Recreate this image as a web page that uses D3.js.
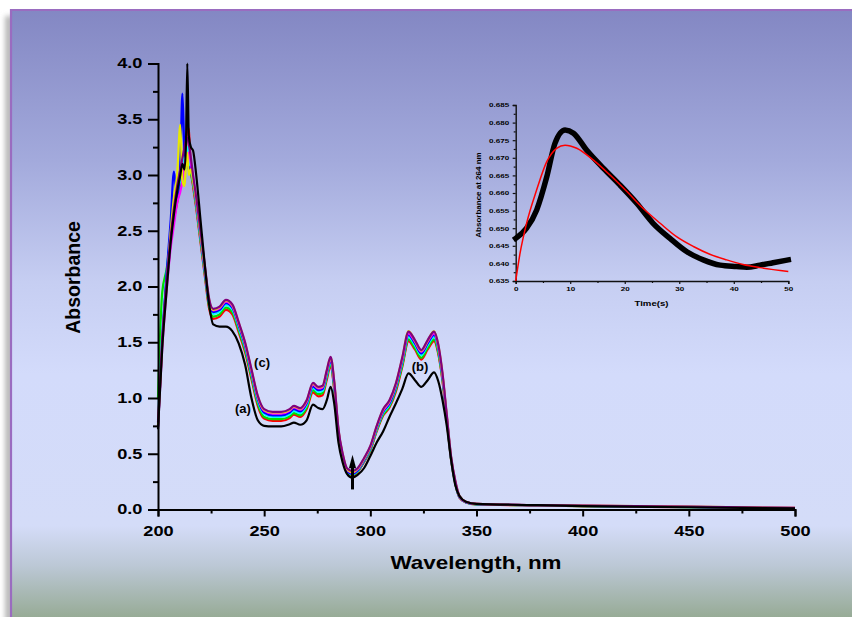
<!DOCTYPE html>
<html><head><meta charset="utf-8">
<script src="https://cdn.jsdelivr.net/npm/d3@7"></script>
<style>
body{margin:0;background:#fff}
svg{display:block}
text{font-family:"Liberation Sans",Arial,sans-serif;font-weight:bold;fill:#000}
</style>
</head><body>
<svg id="c" width="852" height="617"></svg>
<script>
// ---------- DATA ----------
const wavelengths = [200,202,204,206,207.5,209,210.5,211.5,212.5,213.2,
  213.8,214.5,215.5,216.5,218,220,222,224,226,229,
  232,235,238,241,244,247,250,254,258,262,
  264,267,270,273,275.5,277.5,279.5,281.3,283,285,
  287,289,291.5,294,297,300,303,306,309,312,
  315,318,321,324,327,330,332,334,336,338,
  340,342,345,350,375,400,450,500];

const absBlack = [0.72,1.45,1.95,2.4,2.65,2.85,3.0,3.1,3.05,3.3,
  4.0,3.35,3.25,3.22,3.0,2.6,2.2,1.85,1.66,1.64,
  1.64,1.6,1.49,1.3,1.0,0.8,0.75,0.745,0.745,0.765,
  0.78,0.76,0.8,0.94,0.91,0.9,0.98,1.10,0.95,0.6,
  0.42,0.32,0.285,0.31,0.37,0.48,0.6,0.7,0.83,0.95,
  1.08,1.22,1.16,1.10,1.16,1.23,1.15,0.98,0.75,0.45,
  0.22,0.12,0.07,0.05,0.04,0.03,0.02,0.01];

const absRed = [0.75,1.5,2.0,2.4,2.6,2.75,2.9,3.0,3.1,3.25,
  3.43,3.4,3.05,2.9,2.7,2.4,2.1,1.81,1.71,1.73,
  1.79,1.75,1.59,1.41,1.17,0.93,0.815,0.795,0.795,0.82,
  0.85,0.83,0.9,1.05,1.015,1.025,1.165,1.29,1.07,0.67,
  0.45,0.335,0.305,0.335,0.425,0.53,0.7,0.84,0.915,1.055,
  1.275,1.51,1.435,1.345,1.435,1.51,1.395,1.15,0.8,0.45,
  0.23,0.105,0.063,0.045,0.037,0.03,0.02,0.01];

const absGreen = [1.0,1.95,2.15,2.45,2.65,2.8,2.9,3.0,3.1,3.15,
  3.2,3.1,3.02,2.92,2.72,2.42,2.12,1.83,1.73,1.75,
  1.81,1.77,1.61,1.43,1.19,0.95,0.83,0.81,0.81,0.835,
  0.865,0.845,0.915,1.07,1.035,1.045,1.185,1.305,1.085,0.68,
  0.46,0.34,0.31,0.34,0.43,0.535,0.71,0.85,0.925,1.07,
  1.29,1.525,1.45,1.36,1.45,1.525,1.41,1.16,0.81,0.455,
  0.235,0.108,0.064,0.046,0.038,0.031,0.021,0.011];

const absCyan = [0.8,1.6,2.1,2.5,2.7,2.85,2.95,3.05,3.2,3.05,
  3.25,3.15,3.05,2.94,2.74,2.44,2.14,1.85,1.755,1.775,
  1.835,1.795,1.635,1.455,1.215,0.975,0.855,0.83,0.83,0.855,
  0.885,0.865,0.935,1.09,1.055,1.065,1.205,1.325,1.105,0.69,
  0.47,0.345,0.315,0.345,0.435,0.545,0.72,0.865,0.94,1.09,
  1.315,1.55,1.475,1.385,1.475,1.55,1.435,1.18,0.82,0.46,
  0.24,0.11,0.065,0.047,0.039,0.032,0.022,0.012];

const absBlue = [0.74,1.5,2.1,2.6,3.03,2.8,3.1,3.73,3.2,3.15,
  3.1,3.05,3.08,2.96,2.76,2.46,2.15,1.86,1.77,1.79,
  1.85,1.81,1.65,1.47,1.23,0.99,0.87,0.845,0.845,0.87,
  0.9,0.88,0.95,1.105,1.07,1.08,1.22,1.34,1.12,0.7,
  0.48,0.35,0.32,0.35,0.44,0.55,0.73,0.875,0.95,1.1,
  1.33,1.565,1.49,1.40,1.49,1.565,1.45,1.19,0.83,0.465,
  0.245,0.112,0.066,0.048,0.04,0.033,0.023,0.013];

const absMagenta = [0.74,1.45,1.95,2.35,2.55,2.75,2.85,2.95,3.1,3.15,
  3.12,3.2,3.1,2.98,2.78,2.48,2.17,1.88,1.785,1.805,
  1.865,1.825,1.665,1.485,1.245,1.005,0.885,0.86,0.86,0.885,
  0.915,0.895,0.965,1.12,1.085,1.095,1.235,1.355,1.135,0.71,
  0.49,0.36,0.33,0.36,0.45,0.56,0.74,0.885,0.965,1.115,
  1.345,1.58,1.505,1.415,1.505,1.58,1.465,1.205,0.84,0.47,
  0.25,0.115,0.068,0.05,0.04,0.034,0.024,0.014];

const absYellow = [0.76,1.5,2.0,2.5,2.8,3.0,3.45,2.95,2.9,3.1,
  3.2,3.0,3.05,2.95,2.78,2.48,2.18,1.89,1.79,1.815,
  1.875,1.835,1.675,1.495,1.255,1.015,0.895,0.87,0.87,0.895,
  0.925,0.905,0.975,1.13,1.095,1.105,1.245,1.365,1.145,0.715,
  0.495,0.365,0.335,0.365,0.455,0.565,0.745,0.895,0.975,1.125,
  1.355,1.6,1.515,1.425,1.515,1.6,1.475,1.215,0.845,0.475,
  0.255,0.12,0.07,0.05,0.04,0.035,0.025,0.015];

const absPurple = [0.78,1.55,2.05,2.45,2.7,2.9,3.05,3.15,3.25,3.32,
  3.33,3.28,3.15,3.0,2.8,2.5,2.2,1.9,1.8,1.82,
  1.88,1.84,1.68,1.5,1.26,1.02,0.90,0.875,0.875,0.9,
  0.93,0.91,0.98,1.135,1.1,1.11,1.25,1.37,1.15,0.72,
  0.5,0.37,0.345,0.37,0.46,0.57,0.75,0.9,0.98,1.13,
  1.36,1.595,1.52,1.43,1.52,1.595,1.48,1.22,0.85,0.48,
  0.26,0.12,0.07,0.05,0.04,0.035,0.025,0.015];

const xTicks = [200,250,300,350,400,450,500];
const yTicks = [0.0,0.5,1.0,1.5,2.0,2.5,3.0,3.5,4.0];

// inset: kinetics at 264 nm
const kinTime = [0,2.0,3.85,5.7,7.2,9.05,10.6,13.0,16.1,19.1,22.2,25.2,28.3,31.4,34.4,37.5,40.5,42.4,44.8,47.2,50];
const kinAbs  = [0.6471,0.650,0.6552,0.6646,0.6741,0.6779,0.6770,0.6722,0.6670,0.6623,0.6571,0.6514,0.6471,0.6433,0.6410,0.6395,0.6391,0.6389,0.6395,0.6402,0.6410];
const fitTime = [0,0.8,2.0,3.85,5.7,7.5,9.05,11.2,14.2,17.3,20.4,23.4,26.5,29.5,32.6,35.6,38.7,41.7,44.8,50];
const fitAbs  = [0.635,0.6429,0.6514,0.6609,0.6689,0.6727,0.6736,0.6727,0.6694,0.6651,0.6604,0.6556,0.6514,0.6476,0.6448,0.6426,0.6410,0.6397,0.6388,0.6377];
const insetXTicks = [0,10,20,30,40,50];
const insetYTicks = [0.635,0.640,0.645,0.650,0.655,0.660,0.665,0.670,0.675,0.680,0.685];

// ---------- DRAW ----------
const svg = d3.select("#c");
const defs = svg.append("defs");
const grad = defs.append("linearGradient").attr("id","bg")
  .attr("gradientUnits","userSpaceOnUse").attr("x1",0).attr("y1",9).attr("x2",0).attr("y2",617);
[[0,"#8387c3"],[0.25,"#a3aadc"],[0.45,"#c6cef2"],[0.6,"#d3dbfb"],[0.85,"#d4dcf8"],[0.915,"#bcc8d6"],[1,"#97ab96"]]
  .forEach(s=>grad.append("stop").attr("offset",s[0]).attr("stop-color",s[1]));
const blur = defs.append("filter").attr("id","sh").attr("x","-2").attr("width","5");
blur.append("feGaussianBlur").attr("stdDeviation",2.5);

svg.append("rect").attr("x",5).attr("y",16).attr("width",8).attr("height",610)
  .attr("fill","#b8b8b8").attr("filter","url(#sh)");
svg.append("rect").attr("x",11).attr("y",10).attr("width",850).attr("height",615).attr("fill","url(#bg)");
svg.append("line").attr("x1",11).attr("x2",11).attr("y1",9).attr("y2",617).attr("stroke","#9a6cc0").attr("stroke-width",2.2);
svg.append("line").attr("x1",10).attr("x2",852).attr("y1",10).attr("y2",10).attr("stroke","#9a6cc0").attr("stroke-width",2);

// main scales
const x = d3.scaleLinear().domain([200,500]).range([158,795]);
const y = d3.scaleLinear().domain([0,4]).range([509.5,63.5]);
const SX = 1.3;

// spectra
const spectra = [
  {c:"#ff0000", v:absRed},
  {c:"#00e000", v:absGreen},
  {c:"#00ffff", v:absCyan},
  {c:"#0000ff", v:absBlue},
  {c:"#ff00ff", v:absMagenta},
  {c:"#e8e800", v:absYellow},
  {c:"#800080", v:absPurple},
  {c:"#000000", v:absBlack}
];
const line = d3.line().x((d,i)=>x(wavelengths[i])).y(d=>y(d)).curve(d3.curveMonotoneX);
const gLines = svg.append("g");
spectra.forEach(s=>{
  gLines.append("path").attr("d",line(s.v)).attr("fill","none")
    .attr("stroke",s.c).attr("stroke-width",2.2).attr("stroke-linejoin","round");
});

// axes
function styleAxis(g){
  g.select(".domain").attr("stroke","#000").attr("stroke-width",2);
  g.selectAll(".tick line").attr("stroke","#000").attr("stroke-width",2);
}
const gx = svg.append("g").attr("transform","translate(0,509.5)")
  .call(d3.axisBottom(x).tickValues(xTicks).tickSize(7).tickPadding(10).tickFormat(d3.format("d")));
styleAxis(gx);
gx.selectAll("text").attr("font-size",14).attr("font-family",'"Liberation Sans",Arial,sans-serif')
  .attr("font-weight","bold").attr("fill","#000").attr("transform",`scale(${SX},1)`);
const gxm = svg.append("g").attr("transform","translate(0,509.5)")
  .call(d3.axisBottom(x).tickValues(d3.range(225,500,50)).tickSize(4).tickFormat(""));
styleAxis(gxm); gxm.select(".domain").remove();

const gy = svg.append("g").attr("transform","translate(158,0)")
  .call(d3.axisLeft(y).tickValues(yTicks).tickSize(10).tickPadding(2).tickFormat(d3.format(".1f")));
styleAxis(gy);
gy.selectAll("text").attr("font-size",14).attr("font-family",'"Liberation Sans",Arial,sans-serif')
  .attr("font-weight","bold").attr("fill","#000").attr("transform",`scale(${SX},1)`);
const gym = svg.append("g").attr("transform","translate(158,0)")
  .call(d3.axisLeft(y).tickValues(d3.range(0.25,4,0.5)).tickSize(5).tickFormat(""));
styleAxis(gym); gym.select(".domain").remove();

// titles
svg.append("text").attr("x",476).attr("y",569).attr("text-anchor","middle")
  .attr("font-size",19).attr("textLength",171).attr("lengthAdjust","spacingAndGlyphs").text("Wavelength, nm");
svg.append("text").attr("transform","translate(80,277.5) rotate(-90)").attr("text-anchor","middle")
  .attr("font-size",19.5).text("Absorbance");

// annotations
const ann = [{t:"(c)",w:249,a:1.32},{t:"(a)",w:240,a:0.91},{t:"(b)",w:323.4,a:1.28}];
ann.forEach(d=>{
  svg.append("text").attr("x",x(d.w)).attr("y",y(d.a)).attr("dy","0.35em")
    .attr("text-anchor","middle").attr("font-size",13).text(d.t);
});
const arrowW = 291.6;
svg.append("line").attr("x1",x(arrowW)).attr("x2",x(arrowW)).attr("y1",y(0.18)).attr("y2",y(0.40))
  .attr("stroke","#000").attr("stroke-width",3);
svg.append("path").attr("d",`M${x(arrowW)},${y(0.49)} L${x(arrowW)-3.6},${y(0.37)} L${x(arrowW)+3.6},${y(0.37)} Z`).attr("fill","#000");

// ---------- INSET ----------
const xi = d3.scaleLinear().domain([0,50]).range([515.7,788.3]);
const yi = d3.scaleLinear().domain([0.635,0.685]).range([281,105]);
const gi = svg.append("g");
const gix = gi.append("g").attr("transform","translate(0,281)")
  .call(d3.axisBottom(xi).tickValues(insetXTicks).tickSize(3).tickPadding(2.5).tickFormat(d3.format("d")));
const gixm = gi.append("g").attr("transform","translate(0,281)")
  .call(d3.axisBottom(xi).tickValues([5,15,25,35,45]).tickSize(2).tickFormat(""));
gixm.select(".domain").remove();
const giy = gi.append("g").attr("transform","translate(515.7,0)")
  .call(d3.axisLeft(yi).tickValues(insetYTicks).tickSize(3).tickPadding(2).tickFormat(d3.format(".3f")));
const giym = gi.append("g").attr("transform","translate(515.7,0)")
  .call(d3.axisLeft(yi).tickValues(d3.range(0.6375,0.685,0.005)).tickSize(2).tickFormat(""));
giym.select(".domain").remove();
[gix,gixm,giy,giym].forEach(g=>{
  g.select(".domain").attr("stroke","#111").attr("stroke-width",1.4);
  g.selectAll(".tick line").attr("stroke","#111").attr("stroke-width",1.2);
  g.selectAll("text").attr("font-size",6.2).attr("font-family",'"Liberation Sans",Arial,sans-serif')
    .attr("font-weight","bold").attr("fill","#222").attr("transform",`scale(${SX},1)`);
});
gi.append("text").attr("transform","translate(651.5,305.5) scale(1.2,1)").attr("text-anchor","middle")
  .attr("font-size",8).attr("fill","#222").text("Time(s)");
gi.append("text").attr("transform","translate(481,195) rotate(-90)").attr("text-anchor","middle")
  .attr("font-size",8).attr("fill","#222").text("Absorbance at 264 nm");

const kLine = d3.line().x((d,i)=>xi(kinTime[i])).y(d=>yi(d)).curve(d3.curveMonotoneX);
gi.append("path").attr("d",kLine(kinAbs)).attr("fill","none").attr("stroke","#000")
  .attr("stroke-width",5.5).attr("stroke-linecap","square").attr("stroke-linejoin","round");
const fLine = d3.line().x((d,i)=>xi(fitTime[i])).y(d=>yi(d)).curve(d3.curveMonotoneX);
gi.append("path").attr("d",fLine(fitAbs)).attr("fill","none").attr("stroke","#ff0000").attr("stroke-width",1.5);
</script>
</body></html>
